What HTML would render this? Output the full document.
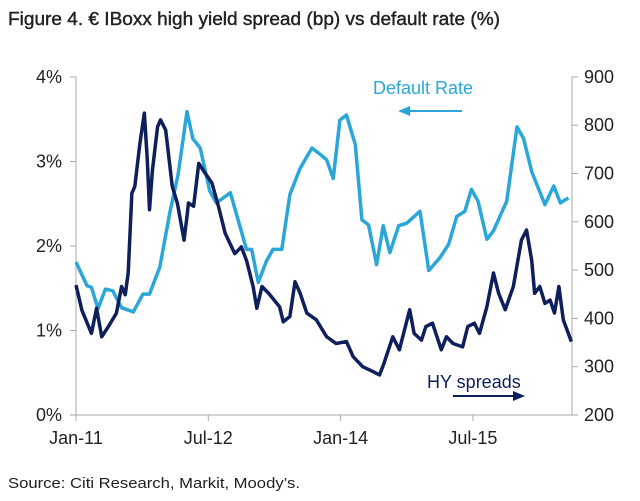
<!DOCTYPE html>
<html><head><meta charset="utf-8">
<style>
body{margin:0;background:#fff;font-family:"Liberation Sans",sans-serif;}
#wrap{position:relative;width:640px;height:501px;overflow:hidden;}
</style></head>
<body>
<div id="wrap">
<svg id="chart" width="640" height="501">
<text x="8" y="25" font-size="18" fill="#222" stroke="#222" stroke-width="0.4" textLength="492" lengthAdjust="spacingAndGlyphs">Figure 4. € IBoxx high yield spread (bp) vs default rate (%)</text>
<text x="8" y="488" font-size="15" fill="#222" textLength="292" lengthAdjust="spacingAndGlyphs">Source: Citi Research, Markit, Moody’s.</text>
</svg>
</div>
<script>
const xTickLabels=["Jan-11","Jul-12","Jan-14","Jul-15"];
const xTickMonths=[0,18,36,54];
const leftTicks=[0,1,2,3,4];
const rightTicks=[200,300,400,500,600,700,800,900];
const drMonths=[0,1.5,2.1,3,4,5,6.2,7.8,9.1,10,11.4,12.8,13.9,15.1,15.9,16.9,18.2,19.1,21,23.2,23.9,24.8,25.9,26.8,28,29.1,30.5,32.1,33,34.1,35,35.9,36.8,38,38.9,39.8,40.9,41.8,42.7,43.9,45,46.8,48,49.5,50.7,51.8,52.9,53.8,54.7,55.9,56.8,58.6,60,60.9,62,63.8,65,65.9,67];
const drValues=[1.81,1.53,1.51,1.26,1.49,1.47,1.27,1.22,1.43,1.43,1.75,2.41,2.85,3.59,3.27,3.16,2.65,2.51,2.63,1.96,1.96,1.57,1.82,1.96,1.96,2.61,2.92,3.16,3.1,3.02,2.8,3.49,3.55,3.2,2.31,2.25,1.78,2.24,1.92,2.24,2.27,2.41,1.71,1.86,2.02,2.35,2.41,2.67,2.53,2.08,2.18,2.53,3.41,3.27,2.88,2.49,2.71,2.51,2.57];
const hyMonths=[0,0.8,2.1,2.8,3.5,4.4,5.5,6.2,6.7,7.1,7.6,8,8.7,9.3,9.7,10,10.4,11.1,11.5,12.2,13.1,13.8,14.7,15.1,15.3,16,16.7,17.6,18.5,19.4,20.3,21.6,22.5,23.2,24.1,24.6,25.3,26.2,27.7,28.2,29.1,29.8,30.5,31.4,32.7,34.1,35.4,36.8,37.7,39,40.4,41.3,41.9,43.1,44,45.4,46,47,47.6,48.5,49.7,50.4,51.3,52.6,53.3,54.2,54.9,55.9,56.8,57.5,58.4,59.5,60.6,61.3,62,62.4,63.1,63.8,64.5,65.1,65.7,66.3,67.4];
const hyValues=[469,417,369,421,362,383,411,466,449,494,659,673,763,825,728,625,707,797,811,790,673,638,562,611,639,632,721,700,680,631,576,534,548,520,466,421,466,452,424,393,404,476,452,411,397,362,348,352,321,300,290,283,307,362,335,418,369,355,383,390,335,362,348,341,383,390,369,424,494,452,418,466,562,583,520,452,466,431,438,411,466,397,352];

const X=m=>76+m*7.35;
const YL=v=>415-v*84.5;
const YR=v=>415-(v-200)*0.483;
const svg=document.getElementById('chart');
const NS="http://www.w3.org/2000/svg";
function mk(tag,attrs){const e=document.createElementNS(NS,tag);for(const k in attrs)e.setAttribute(k,attrs[k]);svg.appendChild(e);return e;}

let a=mk('line',{x1:76,y1:YL(4),x2:76,y2:415,stroke:'#aaa','stroke-width':1});


a=mk('line',{x1:572,y1:YR(900),x2:572,y2:415,stroke:'#aaa','stroke-width':1});


a=mk('line',{x1:76,y1:415,x2:572,y2:415,stroke:'#aaa','stroke-width':1});



leftTicks.forEach(v=>{
 const t=mk('line',{x1:70,y1:YL(v),x2:76,y2:YL(v),stroke:'#aaa'});
 
 
 const l=mk('text',{x:62,y:YL(v)+6,'font-size':18,'text-anchor':'end',fill:'#222'});
 l.textContent=v+'%';
 
 
});
rightTicks.forEach(v=>{
 const t=mk('line',{x1:572,y1:YR(v),x2:578,y2:YR(v),stroke:'#aaa'});
 
 
 const l=mk('text',{x:584,y:YR(v)+6,'font-size':18,fill:'#222'});
 l.textContent=v;
 
 
});
xTickMonths.forEach((m,i)=>{
 const t=mk('line',{x1:X(m),y1:415,x2:X(m),y2:421,stroke:'#aaa'});
 
 
 const l=mk('text',{x:X(m),y:444,'font-size':18,'text-anchor':'middle',fill:'#222'});
 l.textContent=xTickLabels[i];
 
 
});

let p=mk('polyline',{points:drMonths.map((m,i)=>X(m)+','+YL(drValues[i])).join(' '),fill:'none',stroke:'#2aa7d8','stroke-width':3.5,'stroke-linejoin':'round'});


p=mk('polyline',{points:hyMonths.map((m,i)=>X(m)+','+YR(hyValues[i])).join(' '),fill:'none',stroke:'#0e1f5b','stroke-width':3.5,'stroke-linejoin':'round'});



let t=mk('text',{x:373,y:94,'font-size':18,fill:'#2aa7d8'});t.textContent='Default Rate';


t=mk('polygon',{points:'398,111 410,106 410,116',fill:'#2aa7d8'});


t=mk('line',{x1:408,y1:111,x2:462,y2:111,stroke:'#2aa7d8','stroke-width':2});


t=mk('text',{x:427,y:388,'font-size':18,fill:'#0e1f5b'});t.textContent='HY spreads';


t=mk('line',{x1:453,y1:396,x2:515,y2:396,stroke:'#0e1f5b','stroke-width':2});


t=mk('polygon',{points:'525,396 513,391 513,401',fill:'#0e1f5b'});


</script>
</body></html>
